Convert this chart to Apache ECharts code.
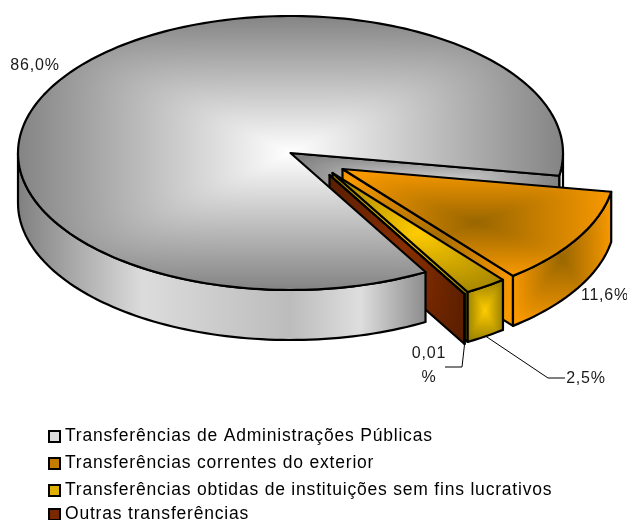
<!DOCTYPE html>
<html>
<head>
<meta charset="utf-8">
<title>Transferências</title>
<script src="https://cdn.jsdelivr.net/npm/echarts@6/dist/echarts.min.js"></script>
<style>
html, body { margin: 0; padding: 0; background: #fff; }
#main { width: 627px; height: 520px; }
</style>
</head>
<body>
<div id="main"></div>
<script>
var categories = [
	'Transferências de Administrações Públicas',
	'Transferências correntes do exterior',
	'Transferências obtidas de instituições sem fins lucrativos',
	'Outras transferências'
];
var values = [86.0, 11.6, 2.5, 0.01];
var valueLabels = ['86,0%', '11,6%', '2,5%', '0,01\n%'];

// pie geometry, angles go clockwise from east
var cx = 290.5, cy = 153, rx = 272.5, ry = 137, depth = 50;
var startAngle = 60.3;
var explode = [[0, 0], [52, 16], [42, 20], [39, 22]];
var total = values.reduce(function (a, b) { return a + b; }, 0);

var lineColor = '#000';
// inner / outer colours of the "from centre" fills
var topFill = [['#ffffff', '#848484'], ['#996600', '#f99900'], ['#ffcc00', '#a88700'], ['#993300', '#662200']];
var sideFill = [['#e2e2e2', '#808080'], ['#996600', '#f99900'], ['#ffcc00', '#998000'], ['#8f3000', '#5c1f00']];
var legendColors = ['#dddddd', '#c47d00', '#e0b000', '#7a2800'];
var greyRimStops = [[18, '#808080'], [143, '#dcdcdc'], [290, '#bcbcbc'], [360, '#dedede'], [426, '#8c8c8c']];

// the original text is set loosely, zrender has no option for that
var getCtx = HTMLCanvasElement.prototype.getContext;
HTMLCanvasElement.prototype.getContext = function () {
	var c = getCtx.apply(this, arguments);
	if (c && 'letterSpacing' in c) c.letterSpacing = '0.8px';
	return c;
};

function angles(i) {
	var a = startAngle;
	for (var k = 0; k < i; k++) a += values[k] / total * 360;
	return [a, a + values[i] / total * 360];
}
function pt(i, deg, down) {
	var t = deg * Math.PI / 180;
	return [cx + explode[i][0] + rx * Math.cos(t), cy + explode[i][1] + ry * Math.sin(t) + (down || 0)];
}
function apex(i, down) {
	return [cx + explode[i][0], cy + explode[i][1] + (down || 0)];
}
function arc(i, from, to, down) {
	var out = [];
	var n = Math.max(2, Math.ceil(Math.abs(to - from) / 1.5));
	for (var k = 0; k <= n; k++) out.push(pt(i, from + (to - from) * k / n, down));
	return out;
}
function rgb(hex) {
	return [1, 3, 5].map(function (s) { return parseInt(hex.substr(s, 2), 16); });
}

// gradient from the centre of a box out to its sides, painted once per pixel
function centreImage(w, h, inner, outer) {
	var cv = document.createElement('canvas');
	cv.width = w;
	cv.height = h;
	var ctx = cv.getContext('2d');
	var img = ctx.createImageData(w, h);
	var a = rgb(inner), b = rgb(outer);
	for (var y = 0; y < h; y++) {
		for (var x = 0; x < w; x++) {
			var dx = Math.abs(2 * (x + 0.5) / w - 1), dy = Math.abs(2 * (y + 0.5) / h - 1);
			var t = Math.min(1, Math.pow(Math.pow(dx, 6) + Math.pow(dy, 6), 1 / 6));
			var p = (y * w + x) * 4;
			img.data[p] = a[0] + (b[0] - a[0]) * t;
			img.data[p + 1] = a[1] + (b[1] - a[1]) * t;
			img.data[p + 2] = a[2] + (b[2] - a[2]) * t;
			img.data[p + 3] = 255;
		}
	}
	ctx.putImageData(img, 0, 0);
	return cv;
}
function centreFill(points, inner, outer) {
	var xs = points.map(function (p) { return p[0]; });
	var ys = points.map(function (p) { return p[1]; });
	var x0 = Math.floor(Math.min.apply(null, xs)), x1 = Math.ceil(Math.max.apply(null, xs));
	var y0 = Math.floor(Math.min.apply(null, ys)), y1 = Math.ceil(Math.max.apply(null, ys));
	return {
		type: 'group',
		clipPath: { type: 'polygon', shape: { points: points } },
		children: [{
			type: 'image',
			style: { image: centreImage(x1 - x0, y1 - y0, inner, outer), x: x0, y: y0, width: x1 - x0, height: y1 - y0 }
		}]
	};
}
function outline(points) {
	return { type: 'polygon', shape: { points: points }, style: { fill: 'none', stroke: lineColor, lineWidth: 2.2, lineJoin: 'round' } };
}
function fromCentre(points, inner, outer) {
	return [centreFill(points, inner, outer), outline(points)];
}

function wall(i, deg, fill) {
	var a = apex(i), b = pt(i, deg);
	return fromCentre([a, b, pt(i, deg, depth), apex(i, depth)], fill[0], fill[1]);
}
function rimShape(i, from, to) {
	return arc(i, from, to).concat(arc(i, to, from, depth));
}
function rim(i, from, to, fill) {
	return fromCentre(rimShape(i, from, to), fill[0], fill[1]);
}
function topFace(i) {
	var a = angles(i);
	return fromCentre([apex(i)].concat(arc(i, a[0], a[1])), topFill[i][0], topFill[i][1]);
}

function slicePart(i) {
	var a = angles(i);
	if (i === 0) {
		var x0 = greyRimStops[0][0], x1 = greyRimStops[greyRimStops.length - 1][0];
		var shade = new echarts.graphic.LinearGradient(x0, 0, x1, 0, greyRimStops.map(function (s) {
			return { offset: (s[0] - x0) / (x1 - x0), color: s[1] };
		}), true);
		return [{
			type: 'polygon',
			shape: { points: rimShape(0, a[0], 180) },
			style: { fill: shade, stroke: lineColor, lineWidth: 2.2, lineJoin: 'round' }
		}].concat(topFace(0));
	}
	return wall(i, a[1], sideFill[i]).concat(rim(i, a[0], a[1], sideFill[i])).concat(topFace(i));
}
function greyBack() {
	var end = angles(0)[1] - 360;
	return rim(0, 0, end, ['#ffffff', '#f4f4f4']).concat(wall(0, end, ['#e6e6e6', '#808080']));
}

var labelStyle = { fontFamily: 'Liberation Sans', fontSize: 16, fill: '#1a1a1a' };
var labelPos = [[35, 66], [605, 296], [586, 379], [429, 366]];
// leader elbows for the two thin slices
var leaderEnds = { 2: [[548, 378], [565, 378]], 3: [[462, 367], [445, 367]] };

function sliceSeries(i) {
	return {
		type: 'custom',
		name: categories[i],
		coordinateSystem: 'none',
		silent: true,
		data: [values[i]],
		itemStyle: { color: legendColors[i] },
		renderItem: function () {
			return { type: 'group', children: slicePart(i) };
		}
	};
}

var series = [{
	type: 'custom',
	name: 'fundo',
	coordinateSystem: 'none',
	silent: true,
	data: [values[0]],
	renderItem: function () {
		return { type: 'group', children: greyBack() };
	}
}];
// grey goes last because its top hides the foot of the brown wall
[1, 2, 3, 0].forEach(function (i) { series.push(sliceSeries(i)); });
series.push({
	type: 'custom',
	name: 'rotulos',
	coordinateSystem: 'none',
	silent: true,
	data: values,
	renderItem: function (params) {
		var i = params.dataIndex;
		var kids = [{
			type: 'text',
			style: Object.assign({
				x: labelPos[i][0], y: labelPos[i][1], text: valueLabels[i],
				align: 'center', verticalAlign: 'middle', lineHeight: 24
			}, labelStyle)
		}];
		if (leaderEnds[i]) {
			var a = angles(i);
			kids.push({
				type: 'polyline',
				shape: { points: [pt(i, (a[0] + a[1]) / 2, depth)].concat(leaderEnds[i]) },
				style: { fill: 'none', stroke: '#000', lineWidth: 1 }
			});
		}
		return { type: 'group', children: kids };
	}
});

var legendTop = [427, 454, 481, 505];
var chart = echarts.init(document.getElementById('main'), null, { renderer: 'canvas' });
chart.setOption({
	animation: false,
	backgroundColor: '#fff',
	legend: categories.map(function (name, i) {
		return {
			left: 48,
			top: legendTop[i],
			orient: 'vertical',
			padding: 0,
			selectedMode: false,
			icon: 'rect',
			itemWidth: 11,
			itemHeight: 11,
			itemGap: 0,
			textStyle: { fontFamily: 'Liberation Sans', fontSize: 17.5, color: '#000', padding: 0 },
			data: [{
				name: name,
				itemStyle: { color: legendColors[i], borderColor: '#000', borderWidth: 2 }
			}]
		};
	}),
	series: series
});
</script>
</body>
</html>
